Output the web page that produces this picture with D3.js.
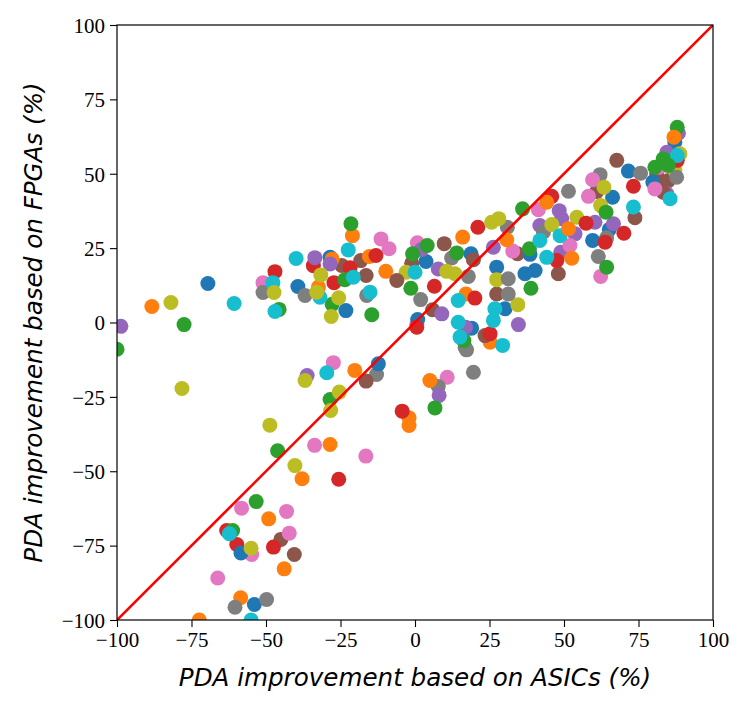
<!DOCTYPE html>
<html><head><meta charset="utf-8">
<script src="https://cdn.jsdelivr.net/npm/d3@7"></script>
<style>body{margin:0;background:#fff}</style>
</head><body>
<svg id="chart" width="748" height="710"></svg>
<script>
const xTicks = [-100,-75,-50,-25,0,25,50,75,100];
const yTicks = [-100,-75,-50,-25,0,25,50,75,100];
const xLabel = "PDA improvement based on ASICs (%)";
const yLabel = "PDA improvement based on FPGAs (%)";
const colors = ["#1f77b4","#ff7f0e","#2ca02c","#d62728","#9467bd","#8c564b","#e377c2","#7f7f7f","#bcbd22","#17becf"];

const blue = [[-69.5,13.1],[-39.3,12.1],[-28.5,21.9],[-23.2,4.0],[3.7,20.5],[0.9,1.0],[18.8,23.1],[27.4,18.6],[19.0,-1.9],[-12.3,-13.9],[30.2,4.6],[40.3,17.5],[36.9,16.4],[38.6,22.9],[71.6,50.9],[66.3,42.1],[65.2,31.3],[59.6,27.6],[87.2,60.6],[79.8,47.2],[-58.4,-77.5],[-53.9,-94.8]];
const orange = [[-88.3,5.4],[-32.4,11.9],[-27.8,21.3],[-15.3,22.2],[-21.0,29.2],[-9.8,17.2],[16.0,28.7],[17.1,9.6],[25.2,-6.6],[5.0,-19.5],[-2.0,-32.0],[-2.0,-34.6],[-20.2,-16.1],[-28.5,-41.0],[-37.9,-52.5],[-49.1,-66.0],[-43.9,-82.8],[-58.5,-92.5],[-72.4,-100],[44.2,40.4],[51.5,31.5],[52.6,21.6],[30.8,27.8],[86.9,62.3]];
const green = [[-100,-9],[-77.5,-0.7],[-45.6,4.4],[-27.8,6.1],[-23.5,14.4],[-14.5,2.6],[-21.5,33.2],[-0.8,23.1],[4.1,25.9],[-1.4,11.5],[14.0,23.4],[16.4,-6.1],[6.7,-28.7],[-28.5,-25.9],[-46.1,-43.1],[-53.3,-60.2],[-61.2,-69.9],[36.1,38.2],[38.4,24.8],[38.9,11.5],[64.1,37.1],[64.3,18.6],[88.0,65.6],[83.3,55.0],[85.0,52.8],[80.5,52.2]];
const red = [[-47.0,17.1],[-34.1,19.1],[-21.8,18.4],[-27.2,13.4],[-13.1,22.5],[6.5,12.2],[0.6,-1.6],[21.1,32.0],[20.1,8.2],[25.2,-3.8],[-4.3,-29.8],[-25.6,-52.7],[-63.2,-69.9],[-59.8,-74.6],[-47.5,-75.5],[45.9,42.4],[47.6,20.8],[73.3,45.8],[57.4,33.4],[70.1,30.0],[63.8,27.0],[88.0,54.5]];
const purple = [[-98.7,-1.3],[-36.2,-17.8],[-33.6,21.8],[-28.5,19.7],[2.2,24.5],[9.0,2.9],[7.8,18.0],[26.3,25.3],[17.0,-1.6],[8.1,-24.5],[34.7,-0.7],[48.4,37.6],[49.2,34.9],[41.9,32.6],[53.7,29.8],[48.9,23.6],[60.4,33.7],[66.6,33.2],[88.4,63.6],[84.5,57.2],[84.5,43.3]];
const brown = [[-24.6,19.2],[-18.2,20.8],[-16.4,15.8],[-1.1,19.9],[5.9,4.3],[9.8,26.5],[19.6,21.1],[27.4,9.6],[23.5,-4.4],[-16.4,-19.7],[-45.0,-72.9],[-40.5,-78.0],[34.4,23.1],[48.1,16.4],[67.7,54.5],[61.0,44.0],[73.8,35.2],[81.1,50.0],[81.6,47.2],[85.0,47.7],[83.3,43.8],[-6.1,14.1]];
const pink = [[-51.0,13.4],[-11.4,28.1],[-8.7,24.8],[0.8,26.8],[0.6,-0.7],[10.8,-18.4],[-27.4,-13.5],[-33.7,-41.3],[-16.5,-44.9],[-58.2,-62.4],[-43.1,-63.5],[-54.8,-78.0],[-42.2,-70.8],[-66.2,-85.9],[41.4,37.9],[52.0,25.9],[32.8,24.0],[59.6,48.0],[58.2,42.4],[62.3,15.5],[82.0,52.2],[80.5,44.9]];
const gray = [[-51.0,10.1],[-36.9,9.1],[-16.2,9.1],[1.9,7.7],[12.3,21.7],[17.9,15.5],[16.8,-8.3],[-12.9,-17.5],[7.8,-21.5],[19.6,-16.7],[17.3,-9.2],[31.0,32.0],[51.5,44.1],[43.1,30.4],[31.3,14.7],[31.3,9.6],[62.1,49.7],[75.7,50.2],[64.3,28.5],[61.5,22.2],[87.8,48.8],[-60.4,-95.7],[-49.8,-93.1]];
const olive = [[-81.9,6.7],[-78.2,-22.2],[-47.3,10.1],[-36.9,-19.5],[-31.6,16.0],[-33.0,10.2],[-28.1,2.0],[-25.6,8.3],[-3.0,16.9],[10.6,17.2],[13.4,16.4],[25.7,33.7],[28.1,34.9],[27.4,14.4],[34.5,6.0],[54.3,35.4],[45.9,32.9],[63.4,45.5],[62.3,39.3],[87.2,51.1],[88.9,56.7],[-25.4,-23.4],[-28.3,-29.6],[-48.7,-34.5],[-40.3,-48.1],[-55.0,-75.9]];
const cyan = [[-60.7,6.4],[-47.7,13.4],[-39.9,21.5],[-47.0,3.7],[-31.9,8.5],[-20.7,15.2],[-22.4,24.4],[-15.1,10.2],[0.0,16.9],[14.5,7.4],[26.8,4.6],[26.3,0.7],[14.5,0.1],[15.1,-4.9],[29.4,-7.7],[-29.6,-16.9],[-62.3,-71.0],[-55.0,-100],[41.9,27.6],[48.7,29.2],[44.2,21.9],[73.3,38.8],[88.0,56.1],[85.6,41.6]];

const series = [blue, orange, green, red, purple, brown, pink, gray, olive, cyan];

const L = 117, R = 713, T = 25, B = 620;
const svg = d3.select("#chart");
const x = d3.scaleLinear().domain([-100,100]).range([L,R]);
const y = d3.scaleLinear().domain([-100,100]).range([B,T]);

svg.append("defs").append("clipPath").attr("id","clip")
  .append("rect").attr("x",L).attr("y",T).attr("width",R-L).attr("height",B-T);

const plot = svg.append("g").attr("clip-path","url(#clip)");
const pts = [];
const maxLen = d3.max(series, s => s.length);
for (let i = 0; i < maxLen; i++) {
  series.forEach((s, k) => { if (i < s.length) pts.push({x:s[i][0], y:s[i][1], c:colors[k]}); });
}
plot.selectAll("circle").data(pts).join("circle")
  .attr("cx", d => x(d.x)).attr("cy", d => y(d.y)).attr("r", 7.5)
  .attr("fill", d => d.c);

plot.append("line")
  .attr("x1", x(-100)).attr("y1", y(-100)).attr("x2", x(100)).attr("y2", y(100))
  .attr("stroke", "#ff0000").attr("stroke-width", 2.6);

const fontSerif = "'Liberation Serif','Times New Roman',serif";
const fmt = d => d < 0 ? "\u2212" + Math.abs(d) : d;
const xAxis = svg.append("g").attr("transform", `translate(0,${B})`)
  .call(d3.axisBottom(x).tickValues(xTicks).tickSize(7).tickPadding(5).tickFormat(fmt));
const yAxis = svg.append("g").attr("transform", `translate(${L},0)`)
  .call(d3.axisLeft(y).tickValues(yTicks).tickSize(7).tickPadding(5).tickFormat(fmt));
[xAxis, yAxis].forEach(a => {
  a.select(".domain").remove();
  a.selectAll("line").attr("stroke", "#000").attr("stroke-width", 1.1);
  a.selectAll("text").attr("font-family", fontSerif).attr("font-size", 21).attr("fill", "#000");
});
yAxis.selectAll("text").attr("dy", "0.35em");

svg.append("rect").attr("x", L).attr("y", T).attr("width", R-L).attr("height", B-T)
  .attr("fill", "none").attr("stroke", "#000").attr("stroke-width", 1.2);

svg.append("text").attr("x", (L+R)/2).attr("y", 686).attr("text-anchor", "middle")
  .attr("font-family", "'DejaVu Sans',sans-serif").attr("font-style", "italic").attr("font-size", 24.6)
  .text(xLabel);
svg.append("text").attr("transform", `translate(42,${(T+B)/2}) rotate(-90)`).attr("text-anchor", "middle")
  .attr("font-family", "'DejaVu Sans',sans-serif").attr("font-style", "italic").attr("font-size", 24.6)
  .text(yLabel);
</script>
</body></html>
